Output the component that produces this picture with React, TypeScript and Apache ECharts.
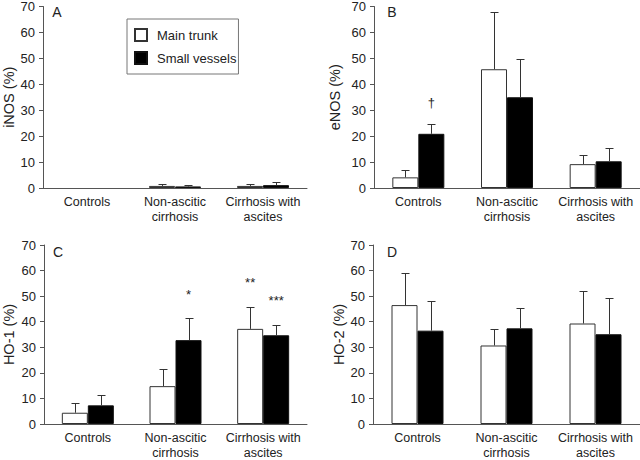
import React, { useEffect, useRef } from "react";
import * as echarts from "echarts";

const categories = ["Controls", "Non-ascitic\ncirrhosis", "Cirrhosis with\nascites"];
const seriesNames = ["Main trunk", "Small vessels"];
const panelLetters = ["A", "B", "C", "D"];
const yAxisNames = ["iNOS (%)", "eNOS (%)", "HO-1 (%)", "HO-2 (%)"];
const yTicks = { min: 0, max: 70, interval: 10 };

// iNOS
const iNOSMain = [null, 0.8, 0.8];
const iNOSMainErr = [null, 0.8, 0.8];
const iNOSSmall = [null, 0.6, 1.1];
const iNOSSmallErr = [null, 0.7, 1.2];
// eNOS
const eNOSMain = [4.1, 45.8, 9.2];
const eNOSMainErr = [2.8, 21.9, 3.4];
const eNOSSmall = [20.9, 35.0, 10.3];
const eNOSSmallErr = [3.7, 14.9, 5.0];
// HO-1
const HO1Main = [4.4, 14.8, 37.2];
const HO1MainErr = [3.8, 6.7, 8.6];
const HO1Small = [7.3, 32.8, 34.7];
const HO1SmallErr = [4.0, 8.5, 4.2];
// HO-2
const HO2Main = [46.5, 30.7, 39.3];
const HO2MainErr = [12.7, 6.3, 12.6];
const HO2Small = [36.5, 37.4, 35.1];
const HO2SmallErr = [11.5, 8.1, 14.2];

// significance marks: [categoryIndex, seriesIndex, yValue, text]
const eNOSMarks: [number, number, number, string][] = [[0, 1, 33, "†"]];
const HO1Marks: [number, number, number, string][] = [
  [1, 1, 50.6, "*"],
  [2, 0, 55.4, "**"],
  [2, 1, 48.4, "***"],
];

const panelData = [
  { main: iNOSMain, mainErr: iNOSMainErr, small: iNOSSmall, smallErr: iNOSSmallErr, marks: [] as [number, number, number, string][] },
  { main: eNOSMain, mainErr: eNOSMainErr, small: eNOSSmall, smallErr: eNOSSmallErr, marks: eNOSMarks },
  { main: HO1Main, mainErr: HO1MainErr, small: HO1Small, smallErr: HO1SmallErr, marks: HO1Marks },
  { main: HO2Main, mainErr: HO2MainErr, small: HO2Small, smallErr: HO2SmallErr, marks: [] as [number, number, number, string][] },
];

const grids = [
  { left: 41, top: 5, width: 266, height: 183 },
  { left: 374, top: 5, width: 267, height: 183 },
  { left: 42, top: 245, width: 265, height: 184 },
  { left: 373, top: 245, width: 267, height: 184 },
];
const nameGaps = [27, 32, 28, 27];
const letterPos = [
  [57, 12],
  [392, 12],
  [58, 252],
  [392, 252],
];

const BAR_W = 26;
const AXIS = "#555";
const INK = "#222";
const FONT = "Liberation Sans, Arial, sans-serif";

export default function App() {
  const ref = useRef<HTMLDivElement>(null);
  useEffect(() => {
    if (!ref.current) return;
    const chart = echarts.init(ref.current, undefined, { renderer: "svg" });

    const xAxis: any[] = [];
    const yAxis: any[] = [];
    const series: any[] = [];

    panelData.forEach((p, i) => {
      xAxis.push({
        type: "category",
        gridIndex: i,
        data: categories,
        boundaryGap: true,
        axisLine: { lineStyle: { color: AXIS, width: 1 } },
        axisTick: { inside: true, length: 4, interval: 0, alignWithLabel: false, lineStyle: { color: AXIS } },
        axisLabel: { interval: 0, fontSize: 12.5, lineHeight: 15, margin: 6, color: INK, fontFamily: FONT },
      });
      yAxis.push({
        type: "value",
        gridIndex: i,
        min: yTicks.min,
        max: yTicks.max,
        interval: yTicks.interval,
        name: yAxisNames[i],
        nameLocation: "middle",
        nameGap: nameGaps[i],
        nameTextStyle: { fontSize: 14.5, color: INK, fontFamily: FONT },
        axisLine: { show: true, lineStyle: { color: AXIS, width: 1 } },
        axisTick: { show: true, length: 4, lineStyle: { color: AXIS } },
        axisLabel: { fontSize: 13, margin: 8, color: INK, fontFamily: FONT },
        splitLine: { show: false },
      });
      series.push({
        type: "bar",
        name: seriesNames[0],
        xAxisIndex: i,
        yAxisIndex: i,
        barWidth: BAR_W,
        barGap: "0%",
        data: p.main.map((v) => (v == null ? "-" : v)),
        itemStyle: { color: "#fff", borderColor: "#333", borderWidth: 1 },
        emphasis: { disabled: true },
      });
      series.push({
        type: "bar",
        name: seriesNames[1],
        xAxisIndex: i,
        yAxisIndex: i,
        barWidth: BAR_W,
        barGap: "0%",
        data: p.small.map((v) => (v == null ? "-" : v)),
        itemStyle: { color: "#000", borderColor: "#111", borderWidth: 1 },
        emphasis: { disabled: true },
      });
      const errData: number[][] = [];
      p.main.forEach((v, c) => {
        if (v != null && p.mainErr[c] != null) errData.push([c, 0, v, p.mainErr[c] as number]);
      });
      p.small.forEach((v, c) => {
        if (v != null && p.smallErr[c] != null) errData.push([c, 1, v, p.smallErr[c] as number]);
      });
      series.push({
        type: "custom",
        xAxisIndex: i,
        yAxisIndex: i,
        clip: false,
        z: 3,
        silent: true,
        encode: { x: 0, y: 2 },
        data: errData,
        renderItem: (params: any, api: any) => {
          const c = api.value(0);
          const g = api.value(1);
          const v = api.value(2);
          const e = api.value(3);
          const base = api.coord([c, v]);
          const top = api.coord([c, v + e]);
          const x = Math.round(base[0] + (g === 0 ? -1 : 1) * (BAR_W / 2)) + 0.5;
          const y0 = base[1];
          const y1 = Math.round(top[1]) + 0.5;
          const st = { stroke: "#333", lineWidth: 1 };
          return {
            type: "group",
            children: [
              { type: "line", shape: { x1: x, y1: y0, x2: x, y2: y1 }, style: st },
              { type: "line", shape: { x1: x - 4, y1: y1, x2: x + 4, y2: y1 }, style: st },
            ],
          };
        },
      });
      if (p.marks.length) {
        const marks = p.marks;
        series.push({
          type: "custom",
          xAxisIndex: i,
          yAxisIndex: i,
          clip: false,
          z: 3,
          silent: true,
          encode: { x: 0, y: 2 },
          data: marks.map((m) => [m[0], m[1], m[2]]),
          renderItem: (params: any, api: any) => {
            const c = api.value(0);
            const g = api.value(1);
            const y = api.value(2);
            const pt = api.coord([c, y]);
            const x = pt[0] + (g === 0 ? -1 : 1) * (BAR_W / 2);
            return {
              type: "text",
              x,
              y: pt[1],
              style: {
                text: marks[params.dataIndex][3],
                fill: INK,
                fontSize: 13,
                fontFamily: FONT,
                textAlign: "center",
                textVerticalAlign: "middle",
              },
            };
          },
        });
      }
    });

    const option: any = {
      animation: false,
      backgroundColor: "#fff",
      textStyle: { fontFamily: FONT },
      grid: grids.map((g) => ({ ...g, containLabel: false })),
      xAxis,
      yAxis,
      legend: {
        data: seriesNames,
        orient: "vertical",
        left: 127,
        top: 19,
        padding: [9, 2, 9, 7],
        itemGap: 9,
        itemWidth: 12,
        itemHeight: 12,
        icon: "rect",
        borderColor: "#777",
        borderWidth: 1,
        selectedMode: false,
        textStyle: { fontSize: 13, color: INK, fontFamily: FONT, padding: [0, 0, 0, 5] },
      },
      graphic: panelLetters.map((t, i) => ({
        type: "text",
        x: letterPos[i][0],
        y: letterPos[i][1],
        style: {
          text: t,
          fontSize: 14,
          fill: INK,
          fontFamily: FONT,
          textAlign: "center",
          textVerticalAlign: "middle",
        },
      })),
      series,
    };
    chart.setOption(option);
    return () => chart.dispose();
  }, []);
  return (
    <div
      ref={ref}
      style={{ position: "fixed", left: 0, top: 0, width: 640, height: 460, background: "#fff" }}
    />
  );
}
